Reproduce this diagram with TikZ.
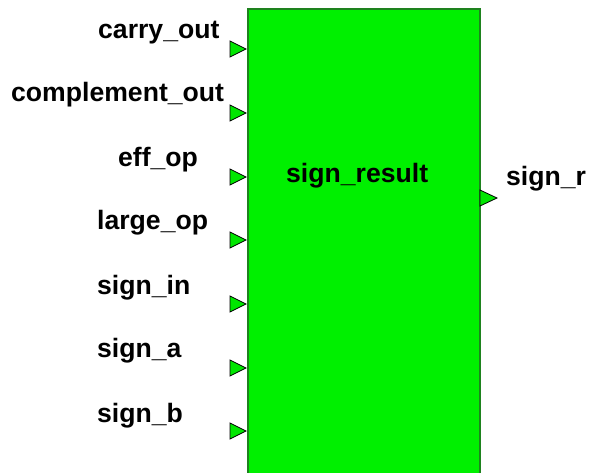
\documentclass[tikz,border=0pt]{standalone}
\usepackage{fontspec}
\setmainfont{Liberation Sans}
\definecolor{blockfill}{RGB}{0,240,0}
\definecolor{blockedge}{RGB}{30,130,30}
\definecolor{portfill}{RGB}{0,230,0}
\tikzset{
  lbl/.style={anchor=base west, inner sep=0pt, font=\fontsize{26.6}{30}\selectfont\bfseries},
  portin/.style={fill=portfill, draw=black, line width=0.8pt, line join=miter},
}
\begin{document}
\begin{tikzpicture}[x=1pt,y=-1pt]
\useasboundingbox (0,0) rectangle (589,472);
% block
\node[draw=blockedge, fill=blockfill, line width=2.4pt, minimum width=232pt, minimum height=480pt, anchor=north west, inner sep=0pt] (blk) at (247,8) {};
% input ports
\foreach \c [count=\i] in {49,113,177,240,304,368,431}{
  \draw[portin] (230,\c-8) -- (246,\c) -- (230,\c+8) -- cycle;
}
% output port
\draw[portin] (480,190) -- (497,198) -- (480,206) -- cycle;
% labels
\node[lbl] (l1) at (98,38) {carry\_out};
\node[lbl] (l2) at (11,101) {complement\_out};
\node[lbl] (l3) at (118,166) {eff\_op};
\node[lbl] (l4) at (97,229) {large\_op};
\node[lbl] (l5) at (97,294) {sign\_in};
\node[lbl] (l6) at (97,357) {sign\_a};
\node[lbl] (l7) at (97,422) {sign\_b};
\node[lbl] (title) at (286,182) {sign\_result};
\node[lbl] (out) at (506,185) {sign\_r};
\end{tikzpicture}
\end{document}
